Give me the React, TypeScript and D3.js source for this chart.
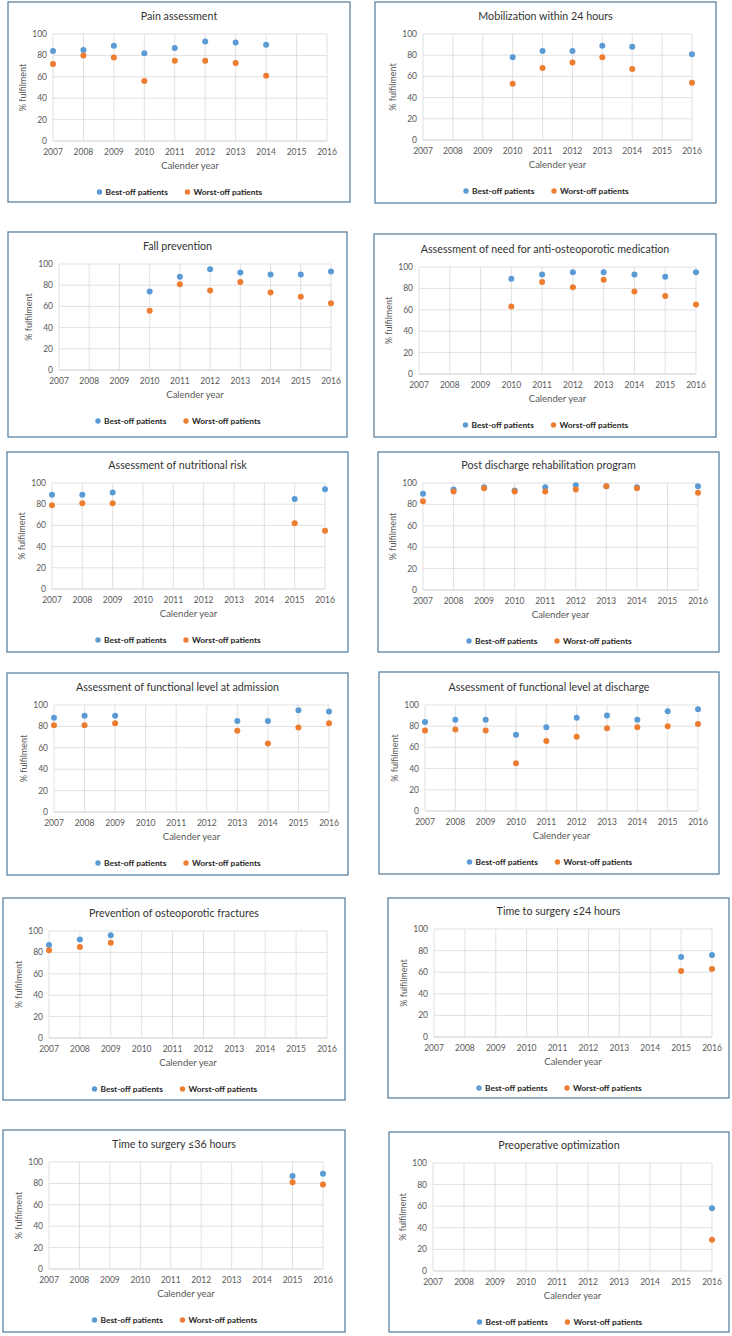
import * as d3 from "d3";

// x categories and y ticks shared by every panel
const YEARS = [2007, 2008, 2009, 2010, 2011, 2012, 2013, 2014, 2015, 2016];
const Y_TICKS = [0, 20, 40, 60, 80, 100];

const TITLES = [
  "Pain assessment",
  "Mobilization within 24 hours",
  "Fall prevention",
  "Assessment of need for anti-osteoporotic medication",
  "Assessment of nutritional risk",
  "Post discharge rehabilitation program",
  "Assessment of functional level at admission",
  "Assessment of functional level at discharge",
  "Prevention of osteoporotic fractures",
  "Time to surgery \u226424 hours",
  "Time to surgery \u226436 hours",
  "Preoperative optimization",
];

const SERIES_NAMES = ["Best-off patients", "Worst-off patients"];

// values per year (null = not measured), 2007..2016
const painBest = [84, 85, 89, 82, 87, 93, 92, 90, null, null];
const painWorst = [72, 80, 78, 56, 75, 75, 73, 61, null, null];
const mobilBest = [null, null, null, 78, 84, 84, 89, 88, null, 81];
const mobilWorst = [null, null, null, 53, 68, 73, 78, 67, null, 54];
const fallBest = [null, null, null, 74, 88, 95, 92, 90, 90, 93];
const fallWorst = [null, null, null, 56, 81, 75, 83, 73, 69, 63];
const osteoMedBest = [null, null, null, 89, 93, 95, 95, 93, 91, 95];
const osteoMedWorst = [null, null, null, 63, 86, 81, 88, 77, 73, 65];
const nutritionBest = [89, 89, 91, null, null, null, null, null, 85, 94];
const nutritionWorst = [79, 81, 81, null, null, null, null, null, 62, 55];
const rehabBest = [90, 94, 96, 93, 96, 98, 97, 96, null, 97];
const rehabWorst = [83, 92, 95, 92, 92, 94, 97, 95, null, 91];
const admissionBest = [88, 90, 90, null, null, null, 85, 85, 95, 94];
const admissionWorst = [81, 81, 83, null, null, null, 76, 64, 79, 83];
const dischargeBest = [84, 86, 86, 72, 79, 88, 90, 86, 94, 96];
const dischargeWorst = [76, 77, 76, 45, 66, 70, 78, 79, 80, 82];
const fractureBest = [87, 92, 96, null, null, null, null, null, null, null];
const fractureWorst = [82, 85, 89, null, null, null, null, null, null, null];
const surgery24Best = [null, null, null, null, null, null, null, null, 74, 76];
const surgery24Worst = [null, null, null, null, null, null, null, null, 61, 63];
const surgery36Best = [null, null, null, null, null, null, null, null, 87, 89];
const surgery36Worst = [null, null, null, null, null, null, null, null, 81, 79];
const preopBest = [null, null, null, null, null, null, null, null, null, 58];
const preopWorst = [null, null, null, null, null, null, null, null, null, 29];

const BEST = [painBest, mobilBest, fallBest, osteoMedBest, nutritionBest, rehabBest,
  admissionBest, dischargeBest, fractureBest, surgery24Best, surgery36Best, preopBest];
const WORST = [painWorst, mobilWorst, fallWorst, osteoMedWorst, nutritionWorst, rehabWorst,
  admissionWorst, dischargeWorst, fractureWorst, surgery24Worst, surgery36Worst, preopWorst];

// layout: outer frame [x0, y0, x1, y1] and plot area [x0, y0, x1, y1]
const FRAMES = [
  [8, 2, 350, 202], [375, 2, 716, 203],
  [8, 232, 347, 437], [374, 234, 716, 437],
  [7, 452, 348, 652], [378, 452, 719, 652],
  [7, 673, 348, 875], [379, 672, 719, 874],
  [3, 898, 345, 1100], [388, 898, 729, 1098],
  [3, 1130, 345, 1332], [389, 1132, 729, 1332],
];
const PLOTS = [
  [53, 34, 327, 141], [423, 34, 692, 140],
  [59, 264, 331, 370], [419, 267, 696, 374],
  [52, 483, 325, 589], [423, 483, 698, 590],
  [54, 705, 329, 812], [425, 705, 698, 811],
  [49, 931, 327, 1038], [434, 929, 712, 1037],
  [49, 1162, 323, 1269], [433, 1163, 712, 1271],
];

const COLORS = ["#5B9BD5", "#ED7D31"];
const FONT = "Lato, 'Open Sans', sans-serif";

function Panel({ i }: { i: number }) {
  const [fx0, fy0, fx1, fy1] = FRAMES[i];
  const [px0, py0, px1, py1] = PLOTS[i];
  const x = d3.scaleLinear().domain([YEARS[0], YEARS[YEARS.length - 1]]).range([px0, px1]);
  const y = d3.scaleLinear().domain([0, 100]).range([py1, py0]);
  const cx = (fx0 + fx1) / 2;
  const series = [BEST[i], WORST[i]];

  // legend widths (approx) so the pair sits centered
  const w0 = 72, gap = 16, w1 = 77;
  const lx = cx - (w0 + gap + w1) / 2;
  const ly = py1 + 51;

  return (
    <g>
      <rect x={fx0} y={fy0} width={fx1 - fx0} height={fy1 - fy0} fill="#fff" stroke="#4F7899" strokeWidth={1.2} />
      <text x={cx} y={py0 - 14} textAnchor="middle" fontSize={10.7} fill="#333" fontFamily={FONT}>
        {TITLES[i]}
      </text>
      {Y_TICKS.map((t) => (
        <g key={"y" + t}>
          <line x1={px0} x2={px1} y1={y(t)} y2={y(t)} stroke={t === 0 ? "#BFBFBF" : "#D9D9D9"} strokeWidth={0.8} />
          <text x={px0 - 6} y={y(t) + 3} textAnchor="end" fontSize={8.5} fill="#595959" fontFamily={FONT}>
            {t}
          </text>
        </g>
      ))}
      {YEARS.map((yr) => (
        <g key={"x" + yr}>
          <line x1={x(yr)} x2={x(yr)} y1={py0} y2={py1} stroke="#D9D9D9" strokeWidth={0.8} />
          <text x={x(yr)} y={py1 + 14} textAnchor="middle" fontSize={8.5} fill="#595959" fontFamily={FONT}>
            {yr}
          </text>
        </g>
      ))}
      <text x={(px0 + px1) / 2} y={py1 + 28} textAnchor="middle" fontSize={9.5} fill="#595959" fontFamily={FONT}>
        Calender year
      </text>
      <text
        transform={`translate(${px0 - 27},${(py0 + py1) / 2}) rotate(-90)`}
        textAnchor="middle"
        fontSize={9}
        fill="#595959"
        fontFamily={FONT}
      >
        % fulfilment
      </text>
      {series.map((vals, s) =>
        vals.map((v, k) =>
          v == null ? null : (
            <circle key={`${s}-${k}`} cx={x(YEARS[k])} cy={y(v)} r={3} fill={COLORS[s]} />
          ),
        ),
      )}
      <circle cx={lx + 3} cy={ly} r={2.7} fill={COLORS[0]} />
      <text x={lx + 9} y={ly + 3} fontSize={8.4} fontWeight="bold" fill="#262626" fontFamily={FONT}>
        {SERIES_NAMES[0]}
      </text>
      <circle cx={lx + w0 + gap + 3} cy={ly} r={2.7} fill={COLORS[1]} />
      <text x={lx + w0 + gap + 9} y={ly + 3} fontSize={8.4} fontWeight="bold" fill="#262626" fontFamily={FONT}>
        {SERIES_NAMES[1]}
      </text>
    </g>
  );
}

export default function App() {
  return (
    <svg
      width={732}
      height={1336}
      viewBox="0 0 732 1336"
      style={{ position: "absolute", left: 0, top: 0, background: "#fff" }}
    >
      {TITLES.map((_, i) => (
        <Panel key={i} i={i} />
      ))}
    </svg>
  );
}
